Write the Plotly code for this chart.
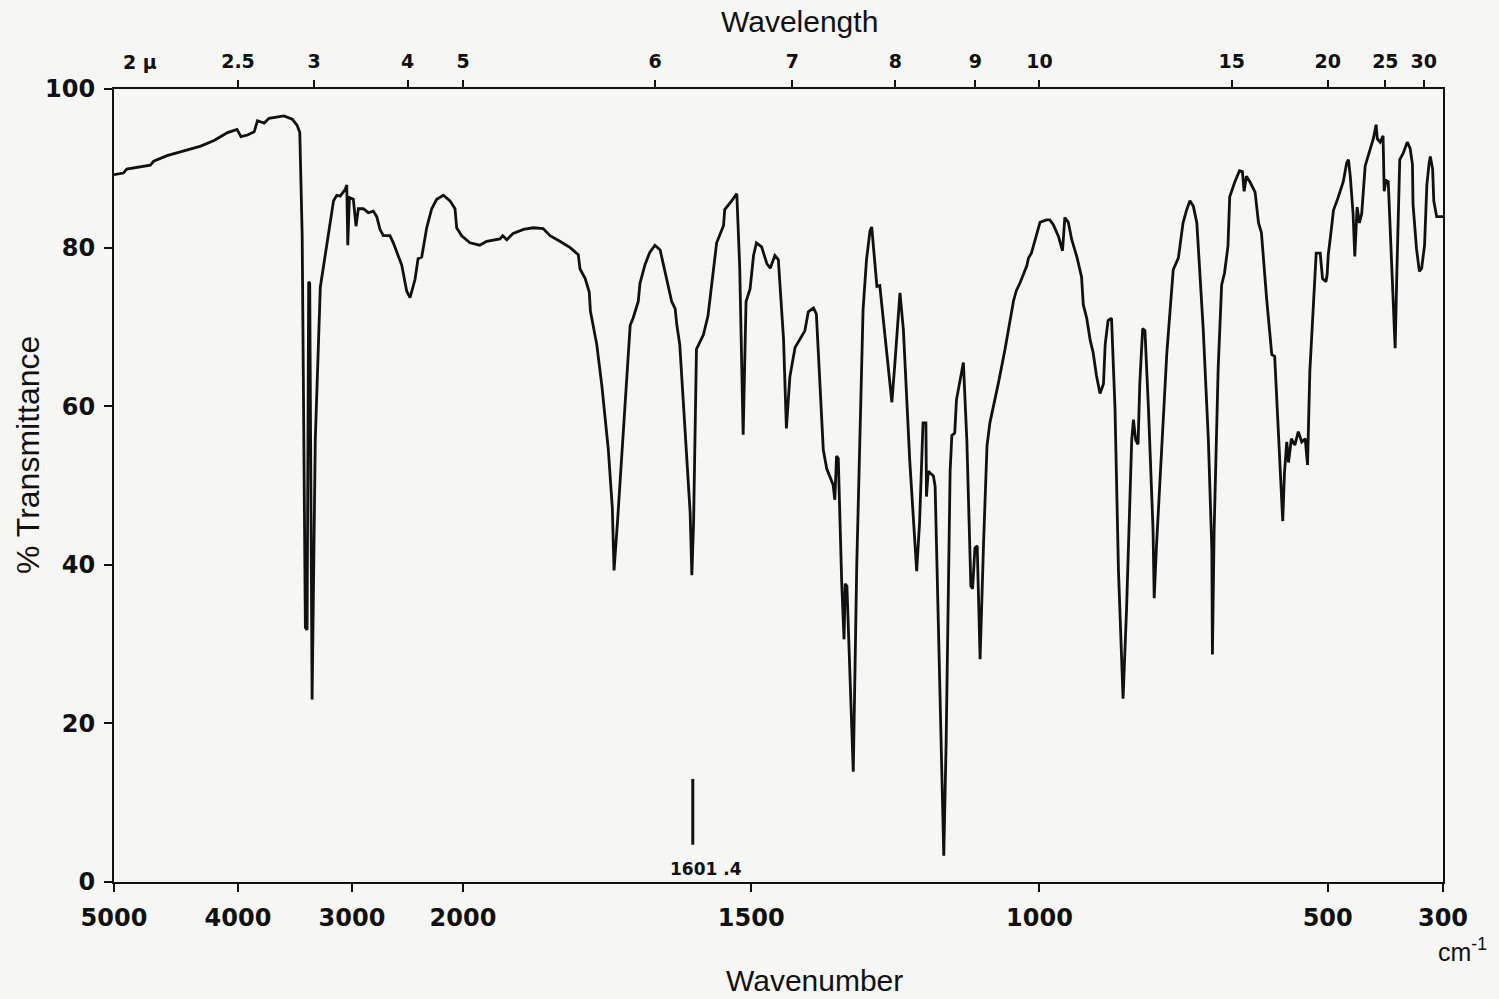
import numpy as np
import plotly.graph_objects as go

# Infrared spectrum, read point by point: wavenumber (cm-1) and % transmittance
wavenumber = [
    5000, 4924, 4897, 4707, 4680, 4572, 4436, 4301, 4193, 4084, 4008, 3974, 3916, 3858,
    3829, 3771, 3728, 3597, 3524, 3481, 3458, 3452, 3437, 3409, 3394, 3380, 3371, 3350,
    3322, 3278, 3235, 3162, 3133, 3104, 3061, 3046, 3037, 3023, 2988, 2964, 2943, 2898,
    2853, 2808, 2777, 2748, 2718, 2658, 2628, 2552, 2507, 2477, 2432, 2405, 2372, 2327,
    2282, 2237, 2177, 2117, 2072, 2057, 2012, 1988, 1971, 1959, 1936, 1931, 1924, 1913,
    1895, 1878, 1861, 1849, 1832, 1814, 1800, 1797, 1788, 1781, 1779, 1768, 1759, 1748,
    1741, 1738, 1732, 1719, 1710, 1705, 1696, 1693, 1684, 1676, 1667, 1658, 1647, 1638,
    1632, 1629, 1624, 1615, 1606, 1603, 1600, 1595, 1583, 1575, 1566, 1560, 1548, 1546,
    1534, 1525, 1520, 1514, 1509, 1502, 1496, 1491, 1482, 1473, 1467, 1459, 1453, 1444,
    1439, 1433, 1424, 1413, 1407, 1401, 1392, 1387, 1375, 1369, 1358, 1355, 1352, 1349,
    1343, 1339, 1337, 1334, 1323, 1317, 1306, 1300, 1294, 1291, 1285, 1282, 1277, 1265,
    1256, 1251, 1242, 1236, 1225, 1216, 1213, 1208, 1202, 1197, 1196, 1193, 1184, 1181,
    1173, 1168, 1166, 1162, 1155, 1152, 1147, 1144, 1138, 1132, 1126, 1122, 1119, 1116,
    1112, 1108, 1103, 1097, 1091, 1086, 1077, 1071, 1060, 1051, 1045, 1040, 1034, 1022,
    1019, 1014, 1008, 999, 988, 982, 976, 967, 960, 956, 950, 944, 935, 927,
    924, 918, 912, 907, 901, 895, 889, 886, 881, 875, 869, 863, 855, 849,
    840, 837, 833, 829, 826, 821, 817, 811, 803, 801, 797, 788, 779, 768,
    759, 751, 745, 739, 733, 727, 716, 707, 701, 700, 697, 690, 684, 679,
    673, 670, 661, 653, 648, 645, 641, 635, 626, 620, 615, 606, 597, 592,
    586, 578, 575, 571, 568, 563, 557, 551, 545, 539, 535, 531, 520, 513,
    509, 503, 501, 499, 495, 490, 482, 473, 467, 464, 461, 456, 453, 449,
    445, 441, 435, 427, 421, 416, 414, 409, 404, 402, 399, 395, 389, 383,
    380, 375, 369, 362, 357, 353, 352, 346, 341, 337, 332, 328, 324, 322,
    318, 316, 311, 300,
]
transmittance = [
    89.2, 89.4, 89.9, 90.4, 90.9, 91.6, 92.2, 92.8, 93.5, 94.5, 94.9, 94.0, 94.2, 94.6,
    96.0, 95.7, 96.3, 96.6, 96.2, 95.4, 94.5, 91.6, 81.5, 32.1, 31.8, 75.7, 75.5, 23.0,
    55.8, 75.0, 79.1, 85.9, 86.6, 86.5, 87.3, 87.9, 80.3, 86.3, 86.1, 82.7, 84.9, 84.9,
    84.4, 84.6, 83.9, 82.3, 81.5, 81.5, 80.6, 77.8, 74.5, 73.7, 76.0, 78.6, 78.8, 82.5,
    84.9, 86.1, 86.6, 85.9, 84.9, 82.5, 81.5, 80.6, 80.3, 80.8, 81.1, 81.5, 81.0, 81.8,
    82.3, 82.5, 82.4, 81.5, 80.8, 80.0, 79.1, 77.3, 76.1, 74.4, 72.0, 67.8, 62.5, 54.6,
    47.2, 39.3, 45.4, 60.1, 70.2, 71.1, 73.2, 75.5, 77.9, 79.4, 80.3, 79.7, 76.1, 73.2,
    72.3, 70.2, 67.8, 57.7, 46.6, 38.7, 45.4, 67.2, 69.0, 71.4, 76.7, 80.6, 82.8, 84.8,
    85.9, 86.8, 77.5, 56.4, 73.2, 74.8, 79.0, 80.6, 80.1, 78.0, 77.4, 79.0, 78.5, 68.5,
    57.2, 63.7, 67.4, 68.7, 69.5, 71.9, 72.4, 71.6, 54.5, 52.1, 50.1, 48.2, 53.7, 53.4,
    37.6, 30.6, 37.6, 37.3, 13.9, 39.8, 72.2, 78.5, 82.1, 82.6, 77.4, 75.1, 75.2, 67.1,
    60.5, 65.2, 74.3, 69.6, 53.1, 42.7, 39.2, 45.3, 57.9, 57.9, 48.6, 51.8, 51.2, 49.9,
    24.9, 10.9, 3.3, 17.2, 51.8, 56.3, 56.6, 60.8, 63.3, 65.5, 55.7, 46.0, 37.3, 37.0,
    42.1, 42.4, 28.1, 42.7, 55.0, 57.9, 60.8, 63.0, 67.1, 70.8, 73.3, 74.6, 75.5, 77.7,
    78.7, 79.3, 80.8, 83.2, 83.5, 83.5, 82.9, 81.4, 79.6, 83.8, 83.2, 81.0, 78.8, 76.3,
    72.8, 71.1, 68.3, 66.8, 63.8, 61.6, 62.8, 67.8, 70.8, 71.1, 59.8, 39.3, 23.1, 34.3,
    55.7, 58.3, 55.7, 55.2, 62.8, 69.8, 69.5, 59.8, 44.4, 35.8, 42.4, 54.7, 66.8, 77.2,
    78.7, 83.1, 84.7, 85.9, 85.2, 83.1, 69.8, 55.7, 41.9, 28.7, 44.4, 64.8, 75.3, 76.8,
    80.2, 86.4, 88.3, 89.7, 89.6, 87.1, 89.0, 88.3, 87.0, 83.1, 81.9, 73.6, 66.5, 66.3,
    58.1, 45.5, 51.6, 55.5, 52.9, 55.9, 55.1, 56.8, 55.5, 55.9, 52.6, 64.4, 79.3, 79.3,
    76.1, 75.7, 76.6, 79.1, 81.5, 84.7, 86.3, 88.3, 90.7, 91.1, 89.1, 84.3, 78.9, 85.1,
    83.1, 84.3, 90.3, 92.3, 93.7, 95.5, 93.7, 93.3, 94.1, 87.1, 88.5, 88.3, 78.7, 67.3,
    77.0, 91.1, 91.9, 93.3, 92.5, 90.5, 85.5, 79.9, 77.0, 77.4, 80.3, 87.9, 90.7, 91.5,
    89.9, 85.9, 83.9, 83.9,
]

# Polystyrene calibration mark
calib_wn = 1601.4
calib_span = [4.7, 13.0]
calib_label = "1601 .4"

# Axis ticks
wn_ticks = [5000, 4000, 3000, 2000, 1500, 1000, 500, 300]
wl_ticks = [2.5, 3, 4, 5, 6, 7, 8, 9, 10, 15, 20, 25, 30]
wl_labels = ["2.5", "3", "4", "5", "6", "7", "8", "9", "10", "15", "20", "25", "30"]
wl_start_label = "2 \u03bc"
t_ticks = [0, 20, 40, 60, 80, 100]

# Chart-paper abscissa: the range above 2000 cm-1 is compressed
SCALE_WN = [300, 2000, 3000, 4000, 5000]
SCALE_POS = [1329, 349, 238, 124, 0]


def chart_x(wn):
    return np.interp(np.asarray(wn, dtype=float), SCALE_WN, SCALE_POS)


INK = "#111111"
BG = "#f6f6f4"
X_RANGE = [float(chart_x(5000)), float(chart_x(300))]

fig = go.Figure()

fig.add_trace(go.Scatter(
    x=chart_x(wavenumber), y=transmittance, mode="lines",
    line=dict(color=INK, width=2.8), hoverinfo="skip", showlegend=False,
))

fig.add_trace(go.Scatter(
    x=chart_x([calib_wn, calib_wn]), y=calib_span, mode="lines", xaxis="x2",
    line=dict(color=INK, width=3), hoverinfo="skip", showlegend=False,
))

tick_font = dict(family="DejaVu Sans", size=24, color=INK, weight="bold")
top_font = dict(family="DejaVu Sans", size=19, color=INK, weight="bold")

fig.update_layout(
    width=1499, height=999,
    margin=dict(l=114, r=56, t=89, b=117),
    paper_bgcolor=BG, plot_bgcolor=BG,
    showlegend=False,
    xaxis=dict(
        range=X_RANGE, tickmode="array",
        tickvals=chart_x(wn_ticks), ticktext=[str(v) for v in wn_ticks],
        ticks="outside", ticklen=8, tickwidth=2, tickcolor=INK,
        showline=True, linewidth=2, linecolor=INK, mirror=True,
        showgrid=False, zeroline=False, tickfont=tick_font, ticklabelstandoff=5,
    ),
    xaxis2=dict(
        overlaying="x", side="top", range=X_RANGE, tickmode="array",
        tickvals=chart_x([1e4 / w for w in wl_ticks]), ticktext=wl_labels,
        ticks="outside", ticklen=8, tickwidth=2, tickcolor=INK,
        showline=False, showgrid=False, zeroline=False,
        tickfont=top_font, ticklabelstandoff=4,
    ),
    yaxis=dict(
        range=[0, 100], tickmode="array", tickvals=t_ticks,
        ticks="outside", ticklen=8, tickwidth=2, tickcolor=INK,
        showline=True, linewidth=2, linecolor=INK, mirror=True,
        showgrid=False, zeroline=False, tickfont=tick_font, ticklabelstandoff=4,
    ),
)

title_font = dict(family="Liberation Sans", size=30, color=INK)

fig.add_annotation(text="Wavelength", xref="paper", yref="paper", x=0.516, y=1.0845,
                   showarrow=False, font=title_font, xanchor="center", yanchor="middle")
fig.add_annotation(text="Wavenumber", xref="paper", yref="paper", x=0.527, y=-0.1236,
                   showarrow=False, font=title_font, xanchor="center", yanchor="middle")
fig.add_annotation(text="% Transmittance", xref="paper", yref="paper", x=-0.0647, y=0.5385,
                   textangle=-90, showarrow=False,
                   font=dict(family="Liberation Sans", size=32, color=INK),
                   xanchor="center", yanchor="middle")
fig.add_annotation(text="cm<sup>-1</sup>", xref="paper", yref="paper", x=1.0150, y=-0.086,
                   showarrow=False, font=dict(family="Liberation Sans", size=25, color=INK),
                   xanchor="center", yanchor="middle")
fig.add_annotation(text=wl_start_label, xref="paper", yref="paper", x=0.0196, y=1.034,
                   showarrow=False, font=top_font, xanchor="center", yanchor="middle")
fig.add_annotation(text=calib_label, xref="x", yref="y", x=float(chart_x(calib_wn)), y=1.6,
                   xshift=13, showarrow=False,
                   font=dict(family="DejaVu Sans", size=17, color=INK, weight="bold"),
                   xanchor="center", yanchor="middle")

fig.write_html("out.html")
